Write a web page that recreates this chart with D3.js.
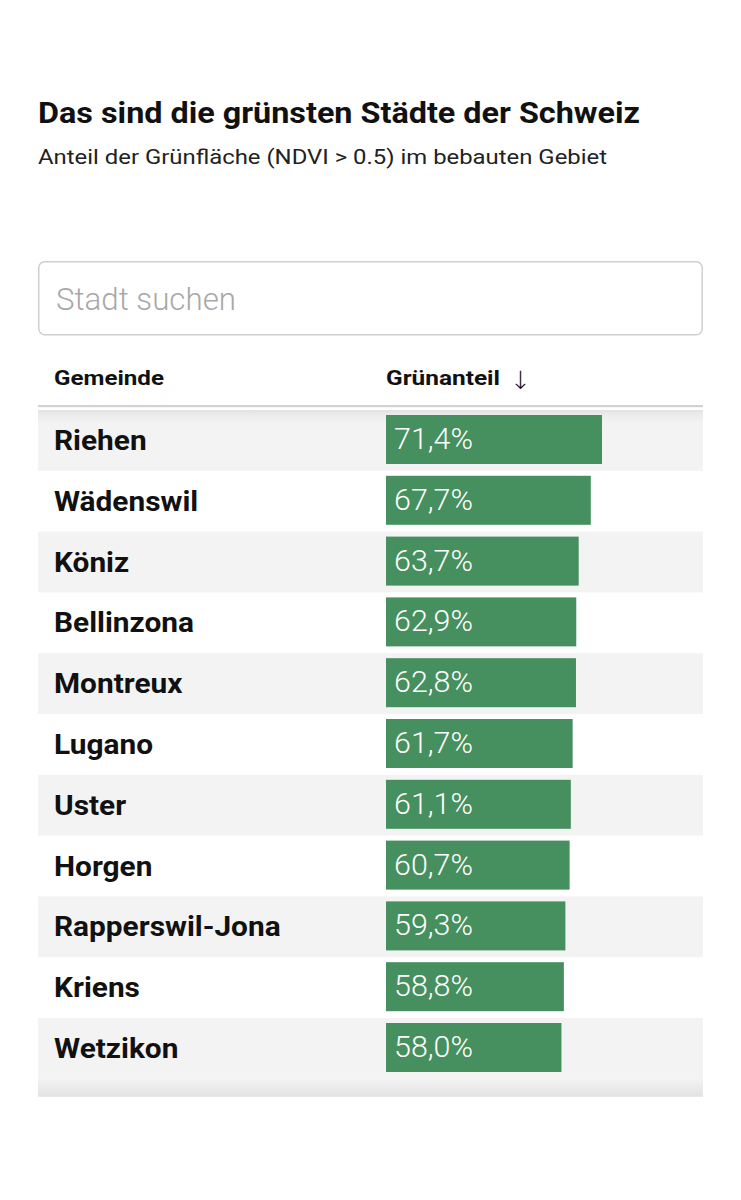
<!DOCTYPE html>
<html><head><meta charset="utf-8">
<script src="https://cdn.jsdelivr.net/npm/d3@7"></script>
<style>html,body{margin:0;padding:0;background:#fff;}svg{display:block;}</style>
</head><body>
<script>
const title = "Das sind die grünsten Städte der Schweiz";
const subtitle = "Anteil der Grünfläche (NDVI > 0.5) im bebauten Gebiet";
const placeholder = "Stadt suchen";
const columns = ["Gemeinde", "Grünanteil"];
const cities = ["Riehen","Wädenswil","Köniz","Bellinzona","Montreux","Lugano","Uster","Horgen","Rapperswil-Jona","Kriens","Wetzikon"];
const shares = [71.4,67.7,63.7,62.9,62.8,61.7,61.1,60.7,59.3,58.8,58.0];

const W = 741, H = 1200;
const svg = d3.select("body").append("svg").attr("width", W).attr("height", H);
const defs = svg.append("defs");
const gTop = defs.append("linearGradient").attr("id","gTop").attr("x1",0).attr("x2",0).attr("y1",0).attr("y2",1);
gTop.append("stop").attr("offset","0%").attr("stop-color","#e2e2e2");
gTop.append("stop").attr("offset","100%").attr("stop-color","#f3f3f3").attr("stop-opacity",0);
const gBot = defs.append("linearGradient").attr("id","gBot").attr("x1",0).attr("x2",0).attr("y1",0).attr("y2",1);
gBot.append("stop").attr("offset","0%").attr("stop-color","#f3f3f3");
gBot.append("stop").attr("offset","100%").attr("stop-color","#e3e3e3");

const left = 38, right = 703;
const sans = "Roboto, 'Noto Sans', sans-serif";

function fitText(t, target) { t.attr("textLength", target).attr("lengthAdjust", "spacingAndGlyphs"); }

// Title
fitText(svg.append("text").attr("x", left).attr("y", 123).attr("font-family", sans)
  .attr("font-weight", 700).attr("font-size", 30).attr("fill", "#111").text(title), 602);
fitText(svg.append("text").attr("x", left).attr("y", 164).attr("font-family", sans)
  .attr("font-weight", 400).attr("font-size", 21).attr("fill", "#222").text(subtitle), 569);

// Search box
svg.append("rect").attr("x", left + 0.75).attr("y", 261.75).attr("width", right - left - 1.5).attr("height", 73)
  .attr("rx", 6).attr("fill", "#fff").attr("stroke", "#cfcfcf").attr("stroke-width", 1.5);
fitText(svg.append("text").attr("x", 56).attr("y", 310).attr("font-family", sans)
  .attr("font-weight", 300).attr("font-size", 31).attr("fill", "#a8a8a8").text(placeholder), 180);

// Scales
const rowTop = 410, rowStep = 60.8;
const y = d3.scaleBand().domain(cities).range([rowTop, rowTop + rowStep * cities.length]).padding(0);
const x = d3.scaleLinear().domain([0, 100]).range([0, 302.5]);
const barX = 386;

// Header
const hdr = svg.append("g");
fitText(hdr.append("text").attr("x", 54).attr("y", 385).attr("font-family", sans).attr("font-weight", 700)
  .attr("font-size", 20).attr("fill", "#111").text(columns[0]), 110);
fitText(hdr.append("text").attr("x", barX).attr("y", 385).attr("font-family", sans).attr("font-weight", 700)
  .attr("font-size", 20).attr("fill", "#111").text(columns[1]), 114);
hdr.append("text").attr("x", 510).attr("y", 389).attr("font-family", "'DejaVu Sans', sans-serif")
  .attr("font-weight", 300).attr("font-size", 25).attr("fill", "#111").text("↓");
svg.append("rect").attr("x", left).attr("y", 405).attr("width", right - left).attr("height", 2.2).attr("fill", "#d2d2d2");

// Rows
const data = cities.map((c, i) => ({city: c, share: shares[i], i}));
const rows = svg.append("g").selectAll("g").data(data).join("g")
  .attr("transform", d => `translate(0,${y(d.city)})`);
rows.filter(d => d.i % 2 === 0).append("rect").attr("x", left).attr("y", 0)
  .attr("width", right - left).attr("height", y.bandwidth()).attr("fill", "#f3f3f3");
// top scroll shadow
svg.append("rect").attr("x", left).attr("y", rowTop).attr("width", right - left).attr("height", 16).attr("fill", "url(#gTop)");
// bottom scroll shadow
const bottomY = rowTop + rowStep * cities.length;
svg.append("rect").attr("x", left).attr("y", bottomY).attr("width", right - left).attr("height", 18).attr("fill", "url(#gBot)");

const rows2 = svg.append("g").selectAll("g").data(data).join("g")
  .attr("transform", d => `translate(0,${y(d.city)})`);

const names = rows2.append("text").attr("x", 54).attr("y", 40).attr("font-family", sans).attr("font-weight", 700)
  .attr("font-size", 27).attr("fill", "#111").text(d => d.city);
const refName = names.filter(d => d.city === "Bellinzona").node().getComputedTextLength();
const kName = 140 / refName;
names.each(function() { const w = this.getComputedTextLength(); d3.select(this).attr("textLength", w * kName).attr("lengthAdjust", "spacingAndGlyphs"); });

rows2.append("rect").attr("x", barX).attr("y", 5).attr("width", d => x(d.share)).attr("height", 49).attr("fill", "#468f5e");
const fmt = v => d3.format(".1f")(v).replace(".", ",") + "%";
const vals = rows2.append("text").attr("x", barX + 8).attr("y", 39).attr("font-family", sans).attr("font-weight", 300)
  .attr("font-size", 30).attr("fill", "#fff").text(d => fmt(d.share));
const refVal = vals.filter(d => d.i === 0).node().getComputedTextLength();
const kVal = 79 / refVal;
vals.each(function() { const w = this.getComputedTextLength(); d3.select(this).attr("textLength", w * kVal).attr("lengthAdjust", "spacingAndGlyphs"); });
</script>
</body></html>
